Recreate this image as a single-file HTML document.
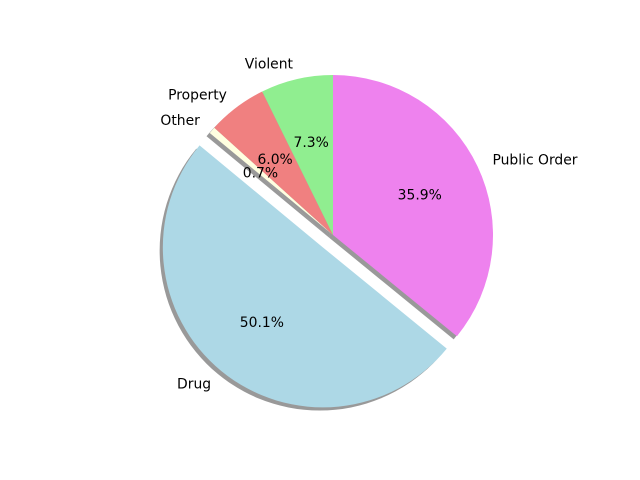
<!DOCTYPE html>
<html><head><meta charset="utf-8"><style>
html,body{margin:0;padding:0;background:#fff}
svg{display:block}
text{font-family:"DejaVu Sans","Liberation Sans",sans-serif;font-size:13.9px;fill:#000}
</style></head><body>
<svg id="chart" width="640" height="480" viewBox="0 0 640 480">
<g id="shadows"></g>
<g id="wedges"></g>
<g id="labels"></g>
</svg>
<script>
const categories = ["Public Order", "Drug", "Other", "Property", "Violent"];
const values = [35.9, 50.1, 0.7, 6.0, 7.3];
const explode = [0, 0.1, 0, 0, 0];
const colors = ["#ee82ee", "#add8e6", "#ffffe0", "#f08080", "#90ee90"];

const cx = 333, cy = 235, R = 160, startAngle = 90;
const NS = "http://www.w3.org/2000/svg";
const total = values.reduce((a, b) => a + b, 0);
const sh = document.getElementById('shadows');
const wg = document.getElementById('wedges');
const lb = document.getElementById('labels');
function pt(x, y, a, r) { const t = a * Math.PI / 180; return [x + r * Math.cos(t), y - r * Math.sin(t)]; }
function wedgePath(x, y, a1, a2) {
  const p1 = pt(x, y, a1, R), p2 = pt(x, y, a2, R);
  const large = Math.abs(a1 - a2) > 180 ? 1 : 0;
  return `M${x},${y} L${p1[0]},${p1[1]} A${R},${R} 0 ${large} 1 ${p2[0]},${p2[1]} Z`;
}
let a = startAngle;
const info = [];
values.forEach((v, i) => {
  const sweep = v / total * 360;
  const a1 = a, a2 = a - sweep, mid = (a1 + a2) / 2;
  const off = pt(0, 0, mid, explode[i] * R);
  const x = cx + off[0], y = cy + off[1];
  info.push({ a1, a2, mid, x, y });
  a = a2;
});
info.forEach((w, i) => {
  const s = document.createElementNS(NS, 'path');
  s.setAttribute('d', wedgePath(w.x - 3.2, w.y + 3.2, w.a1, w.a2));
  s.setAttribute('fill', '#000');
  s.setAttribute('fill-opacity', '0.4');
  
  
  sh.appendChild(s);
});
info.forEach((w, i) => {
  const p = document.createElementNS(NS, 'path');
  p.setAttribute('d', wedgePath(w.x, w.y, w.a1, w.a2));
  p.setAttribute('fill', colors[i]);
  
  
  wg.appendChild(p);
  const lp = pt(w.x, w.y, w.mid, R * 1.1);
  const t = document.createElementNS(NS, 'text');
  t.setAttribute('x', lp[0] + (lp[0] >= cx ? 0.5 : 0)); t.setAttribute('y', lp[1] + 1);
  t.setAttribute('dominant-baseline', 'central');
  t.setAttribute('text-anchor', lp[0] >= cx ? 'start' : 'end');
  t.textContent = categories[i];
  
  
  lb.appendChild(t);
  const pp = pt(w.x, w.y, w.mid, R * 0.6);
  const q = document.createElementNS(NS, 'text');
  q.setAttribute('x', pp[0]); q.setAttribute('y', pp[1] + 1.5);
  q.setAttribute('dominant-baseline', 'central');
  q.setAttribute('text-anchor', 'middle');
  q.textContent = values[i].toFixed(1) + '%';
  
  
  lb.appendChild(q);
});
</script>
</body></html>
